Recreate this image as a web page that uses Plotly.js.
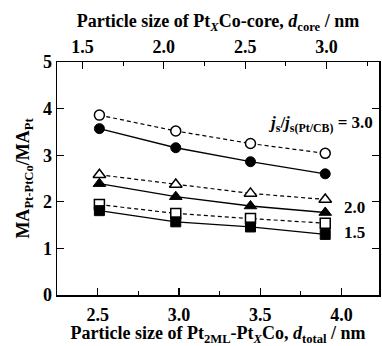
<!DOCTYPE html>
<html>
<head>
<meta charset="utf-8">
<script src="https://cdn.plot.ly/plotly-3.0.1.min.js"></script>
<style>html,body{margin:0;padding:0;background:#fff}#chart{width:382px;height:346px}</style>
</head>
<body>
<div id="chart"></div>
<script>
// Data
const dTotal = [2.51, 2.98, 3.44, 3.90];          // nm, bottom axis
const dCore = [1.61, 2.08, 2.53, 2.98];           // nm, top axis
const ratioLabels = ['3.0', '2.0', '1.5'];
const ma30Open = [3.86, 3.52, 3.25, 3.04];
const ma30Filled = [3.57, 3.16, 2.86, 2.60];
const ma20Open = [2.58, 2.37, 2.18, 2.05];
const ma20Filled = [2.39, 2.11, 1.91, 1.77];
const ma15Open = [1.94, 1.75, 1.64, 1.54];
const ma15Filled = [1.81, 1.57, 1.46, 1.30];
const bottomTicks = [2.5, 3.0, 3.5, 4.0];
const topTicks = [1.5, 2.0, 2.5, 3.0];

const FONT = 'Liberation Serif, Times New Roman, serif';

function openTrace(y, sym) {
  return {x: dTotal, y: y, type: 'scatter', mode: 'lines+markers',
    line: {color: '#000', width: 1.2, dash: '4px,3px'},
    marker: {symbol: sym, size: sym === 'triangle-up' ? 11 : 10, color: '#fff', line: {color: '#000', width: 1.5}},
    showlegend: false, hoverinfo: 'skip'};
}
function filledTrace(y, sym) {
  return {x: dTotal, y: y, type: 'scatter', mode: 'lines+markers',
    line: {color: '#000', width: 1.3},
    marker: {symbol: sym, size: sym === 'triangle-up' ? 11 : 10, color: '#000', line: {color: '#000', width: 1}},
    showlegend: false, hoverinfo: 'skip'};
}

const traces = [
  openTrace(ma30Open, 'circle'),
  openTrace(ma20Open, 'triangle-up'),
  openTrace(ma15Open, 'square'),
  filledTrace(ma30Filled, 'circle'),
  filledTrace(ma20Filled, 'triangle-up'),
  filledTrace(ma15Filled, 'square'),
  {x: dCore, y: ma30Filled, xaxis: 'x2', yaxis: 'y', type: 'scatter', mode: 'markers',
   marker: {opacity: 0}, showlegend: false, hoverinfo: 'skip'}
];

const tickFont = {family: FONT, size: 18, color: '#000', weight: 'bold'};
const titleFont = {family: FONT, size: 18, color: '#000', weight: 'bold'};

const layout = {
  width: 382, height: 346,
  margin: {l: 57, r: 3, t: 62, b: 51},
  paper_bgcolor: '#fff', plot_bgcolor: '#fff',
  font: {family: FONT, color: '#000'},
  showlegend: false,
  xaxis: {
    range: [2.249, 4.231], tickvals: bottomTicks, ticktext: bottomTicks.map(v => v.toFixed(1)),
    ticks: 'inside', ticklen: 7, tickwidth: 1.2, tickcolor: '#000',
    minor: {dtick: 0.25, tick0: 2.25, ticks: 'inside', ticklen: 4, tickwidth: 1.2, tickcolor: '#000', showgrid: false},
    showline: true, linecolor: '#000', linewidth: 1.5, mirror: false,
    showgrid: false, zeroline: false, tickfont: tickFont, ticklabelstandoff: 3,
    title: {text: 'Particle size of Pt<sub>2ML</sub>-Pt<sub><i>X</i></sub>Co, <i>d</i><sub>total</sub> / nm', font: titleFont, standoff: 9}
  },
  xaxis2: {
    overlaying: 'x', side: 'top', anchor: 'y',
    range: [1.343, 3.323], tickvals: topTicks, ticktext: topTicks.map(v => v.toFixed(1)),
    ticks: 'inside', ticklen: 7, tickwidth: 1.2, tickcolor: '#000',
    minor: {dtick: 0.25, tick0: 1.25, ticks: 'inside', ticklen: 4, tickwidth: 1.2, tickcolor: '#000', showgrid: false},
    showline: true, linecolor: '#000', linewidth: 1.5,
    showgrid: false, zeroline: false, tickfont: tickFont,
    title: {text: 'Particle size of Pt<sub><i>X</i></sub>Co-core, <i>d</i><sub>core</sub> / nm', font: titleFont, standoff: 5}
  },
  yaxis: {
    range: [0, 5], dtick: 1, tick0: 0,
    ticks: 'inside', ticklen: 7, tickwidth: 1.2, tickcolor: '#000',
    showline: true, linecolor: '#000', linewidth: 1.5, mirror: 'ticks',
    showgrid: false, zeroline: false, tickfont: tickFont,
    title: {text: 'MA<sub>Pt-PtCo</sub>/MA<sub>Pt</sub>', font: titleFont, standoff: 8}
  },
  annotations: [
    {xref: 'paper', yref: 'paper', x: 0.988, y: 0.735, xanchor: 'right', yanchor: 'middle', showarrow: false,
     text: '<i>j</i><sub>s</sub>/<i>j</i><sub>s(Pt/CB)</sub> = ' + ratioLabels[0], font: {family: FONT, size: 17, color: '#000', weight: 'bold'}},
    {xref: 'paper', yref: 'paper', x: 0.963, y: 0.375, xanchor: 'right', yanchor: 'middle', showarrow: false,
     text: ratioLabels[1], font: {family: FONT, size: 17, color: '#000', weight: 'bold'}},
    {xref: 'paper', yref: 'paper', x: 0.963, y: 0.268, xanchor: 'right', yanchor: 'middle', showarrow: false,
     text: ratioLabels[2], font: {family: FONT, size: 17, color: '#000', weight: 'bold'}}
  ]
};

Plotly.newPlot('chart', traces, layout, {staticPlot: true, displayModeBar: false});
</script>
</body>
</html>
